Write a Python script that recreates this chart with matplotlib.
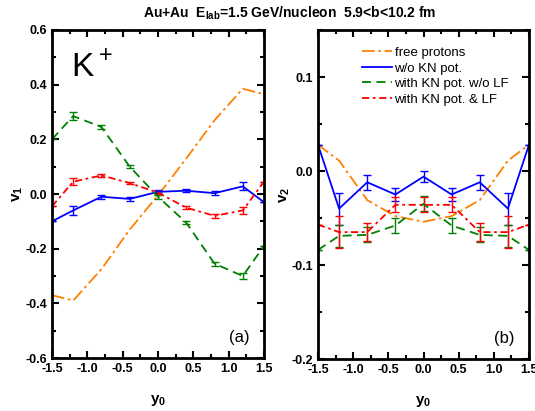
import matplotlib.pyplot as plt
from matplotlib.lines import Line2D
from matplotlib.ticker import MultipleLocator

plt.rcParams["font.family"] = ["Liberation Sans", "DejaVu Sans"]
plt.rcParams["axes.unicode_minus"] = False
plt.rcParams["mathtext.fontset"] = "custom"
plt.rcParams["mathtext.rm"] = "Liberation Sans"
plt.rcParams["mathtext.bf"] = "Liberation Sans:bold"

y0 = [-1.5, -1.2, -0.8, -0.4, 0.0, 0.4, 0.8, 1.2, 1.5]

# v1 (panel a)
v1_prot = [-0.37, -0.39, -0.275, -0.13, -0.005, 0.13, 0.27, 0.385, 0.365]
v1_nopot = [-0.10, -0.06, -0.01, -0.018, 0.008, 0.012, 0.003, 0.028, -0.03]
v1_nopot_err = [0, 0.015, 0.008, 0.006, 0.006, 0.006, 0.008, 0.015, 0]
v1_pot = [0.20, 0.285, 0.245, 0.10, -0.01, -0.105, -0.255, -0.30, -0.19]
v1_pot_err = [0, 0.015, 0.008, 0.006, 0.008, 0.006, 0.008, 0.012, 0]
v1_lf = [-0.045, 0.045, 0.068, 0.04, 0.005, -0.05, -0.08, -0.06, 0.045]
v1_lf_err = [0, 0.012, 0.006, 0.005, 0.005, 0.005, 0.008, 0.012, 0]

# v2 (panel b)
v2_prot = [0.028, 0.011, -0.031, -0.048, -0.054, -0.048, -0.031, 0.011, 0.028]
v2_nopot = [0.028, -0.04, -0.012, -0.025, -0.006, -0.025, -0.012, -0.04, 0.028]
v2_nopot_err = [0, 0.017, 0.008, 0.007, 0.006, 0.007, 0.008, 0.017, 0]
v2_pot = [-0.084, -0.069, -0.068, -0.058, -0.035, -0.058, -0.068, -0.069, -0.084]
v2_pot_err = [0, 0.012, 0.008, 0.008, 0.008, 0.008, 0.008, 0.012, 0]
v2_lf = [-0.057, -0.065, -0.065, -0.036, -0.036, -0.036, -0.065, -0.065, -0.057]
v2_lf_err = [0, 0.017, 0.01, 0.008, 0.008, 0.008, 0.01, 0.017, 0]

labels = ["free protons", "w/o KN pot.", "with KN pot. w/o LF", "with KN pot. & LF"]
c_prot, c_nopot, c_pot, c_lf = "#FF8000", "#0000FF", "#008000", "#FF0000"
d_prot, d_pot, d_lf = (7, 2, 1.5, 2), (5, 3), (4, 2, 1.5, 2)

fig = plt.figure(figsize=(5.35, 4.11), dpi=100)
ax1 = fig.add_axes([52 / 535, 1 - 358 / 411, 212 / 535, 328 / 411])
ax2 = fig.add_axes([318 / 535, 1 - 359 / 411, 211 / 535, 329 / 411])


def draw(ax, prot, nopot, nopot_err, pot, pot_err, lf, lf_err):
    ax.plot(y0, prot, color=c_prot, lw=1.3, dashes=d_prot)
    ax.errorbar(y0, nopot, yerr=nopot_err, color=c_nopot, lw=1.3, capsize=3,
                elinewidth=1)
    ax.errorbar(y0, pot, yerr=pot_err, color=c_pot, lw=1.3, capsize=3,
                elinewidth=1, dashes=d_pot)
    ax.errorbar(y0, lf, yerr=lf_err, color=c_lf, lw=1.3, capsize=3,
                elinewidth=1, dashes=d_lf)
    ax.set_xlim(-1.5, 1.5)
    ax.xaxis.set_major_locator(MultipleLocator(0.5))
    ax.xaxis.set_minor_locator(MultipleLocator(0.25))
    ax.tick_params(which="both", direction="in", top=True, right=True, width=1.5)
    ax.tick_params(which="major", length=5, labelsize=9)
    ax.tick_params(which="minor", length=3)
    for lab in ax.get_xticklabels() + ax.get_yticklabels():
        lab.set_fontweight("bold")
    for s in ax.spines.values():
        s.set_linewidth(2)
    ax.set_xlabel("y$_\\mathbf{0}$", fontsize=11, fontweight="bold", labelpad=13)


draw(ax1, v1_prot, v1_nopot, v1_nopot_err, v1_pot, v1_pot_err, v1_lf, v1_lf_err)
ax1.set_ylim(-0.6, 0.6)
ax1.yaxis.set_major_locator(MultipleLocator(0.2))
ax1.yaxis.set_minor_locator(MultipleLocator(0.1))
ax1.yaxis.set_major_formatter(lambda v, p: f"{v:.1f}")
ax1.set_ylabel("v$_\\mathbf{1}$", fontsize=11, fontweight="bold", labelpad=0)
ax1.text(0.09, 0.86, "K$^+$", transform=ax1.transAxes, fontsize=24)
ax1.text(0.93, 0.05, "(a)", transform=ax1.transAxes, fontsize=12, ha="right")

draw(ax2, v2_prot, v2_nopot, v2_nopot_err, v2_pot, v2_pot_err, v2_lf, v2_lf_err)
ax2.set_ylim(-0.2, 0.15)
ax2.yaxis.set_major_locator(MultipleLocator(0.1))
ax2.yaxis.set_minor_locator(MultipleLocator(0.05))
ax2.yaxis.set_major_formatter(lambda v, p: f"{v:.1f}")
ax2.set_ylabel("v$_\\mathbf{2}$", fontsize=11, fontweight="bold", labelpad=0)
ax2.text(0.93, 0.05, "(b)", transform=ax2.transAxes, fontsize=12, ha="right")

handles = [
    Line2D([], [], color=c_prot, lw=1.3, dashes=d_prot),
    Line2D([], [], color=c_nopot, lw=1.3),
    Line2D([], [], color=c_pot, lw=1.3, dashes=d_pot),
    Line2D([], [], color=c_lf, lw=1.3, dashes=d_lf),
]
ax2.legend(handles, labels, loc="upper left", bbox_to_anchor=(0.15, 0.985),
           frameon=False, fontsize=9.5, handlelength=2.3, handletextpad=0.2,
           labelspacing=0.25)

fig.text(290 / 535, 1 - 13 / 411,
         "Au+Au  E$_\\mathbf{lab}$=1.5 GeV/nucleon  5.9<b<10.2 fm",
         ha="center", va="center", fontsize=10, fontweight="bold")

fig.savefig("out.png", dpi=100)
